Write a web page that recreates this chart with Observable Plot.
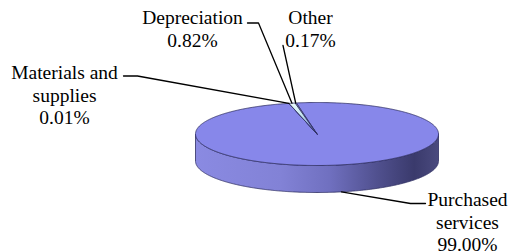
<!DOCTYPE html>
<html>
<head>
<meta charset="utf-8">
<script src="https://cdn.jsdelivr.net/npm/d3@7"></script>
<script src="https://cdn.jsdelivr.net/npm/@observablehq/plot@0.6"></script>
<style>
  html, body { margin: 0; padding: 0; background: #fff; }
</style>
</head>
<body>
<div id="chart"></div>
<script>
// ---- data ----
const categories = ["Materials and supplies", "Depreciation", "Other", "Purchased services"];
const labelNames = [["Materials and", "supplies"], ["Depreciation"], ["Other"], ["Purchased", "services"]];
const shares = [0.01, 0.82, 0.17, 99.00];
const sliceColors = ["#9a9af0", "url(#depGrad)", "#a4a4f0", "#8787ea"];

// ---- layout (not data) ----
const W = 511, H = 252;
const pie = {cx: 316.5, cy: 133.5, rx: 121.5, ry: 31.5, depth: 27, startDeg: -13.4};
const labelCenters = [[64, 76], [192, 21], [310, 21], [467, 203]]; // center x, first baseline
const leaderStubs = [
  [[123, 75.5], [137, 75.5]],
  [[247, 22.5], [258, 22.5]],
  [[282.5, 45]],
  [[425, 203], [410, 203]]
];
const FS = 19.5, LH = 1.17;
const FONT = "Liberation Serif";

// ---- geometry from data ----
const total = d3.sum(shares);
const arcs = [];
{
  let a = pie.startDeg;
  shares.forEach((v, i) => {
    const span = v / total * 360;
    arcs.push({name: categories[i], i, a0: a, a1: a + span, mid: a + span / 2});
    a += span;
  });
}
const ex = t => pie.cx + pie.rx * Math.sin(t * Math.PI / 180);
const ey = t => pie.cy - pie.ry * Math.cos(t * Math.PI / 180);

function sample(a0, a1) {
  const n = Math.max(2, Math.ceil(Math.abs(a1 - a0) / 0.5));
  return d3.range(n + 1).map(k => a0 + (a1 - a0) * k / n);
}

// top face polygons (big slice first)
const topPts = [];
const drawOrder = [3, 0, 2, 1];
drawOrder.forEach(i => {
  const s = arcs[i];
  topPts.push({k: s.name, x: pie.cx, y: pie.cy});
  sample(s.a0, s.a1).forEach(t => topPts.push({k: s.name, x: ex(t), y: ey(t)}));
  topPts.push({k: s.name, x: pie.cx, y: pie.cy});
});

// side wall (front half: 90..270 deg)
const sidePts = [];
arcs.forEach(s => {
  for (const off of [-360, 0, 360]) {
    const lo = Math.max(s.a0 + off, 90), hi = Math.min(s.a1 + off, 270);
    if (hi > lo) {
      const ts = sample(lo, hi);
      ts.forEach(t => sidePts.push({k: s.name, x: ex(t), y: ey(t)}));
      ts.slice().reverse().forEach(t => sidePts.push({k: s.name, x: ex(t), y: ey(t) + pie.depth}));
      sidePts.push({k: s.name, x: ex(ts[0]), y: ey(ts[0])});
    }
  }
});

// leader lines
const leaderPts = [];
arcs.forEach((s, i) => {
  const endX = ex(s.mid);
  let endY = ey(s.mid);
  const front = Math.cos(s.mid * Math.PI / 180) < 0;
  if (front) endY += pie.depth;
  const stub = leaderStubs[i];
  if (i === 3) {
    leaderPts.push({k: s.name, x: endX, y: endY});
    stub.slice().reverse().forEach(p => leaderPts.push({k: s.name, x: p[0], y: p[1]}));
  } else {
    stub.forEach(p => leaderPts.push({k: s.name, x: p[0], y: p[1]}));
    leaderPts.push({k: s.name, x: endX, y: endY});
  }
});

// labels
const labelData = categories.map((c, i) => ({
  text: [...labelNames[i], shares[i].toFixed(2) + "%"].join("\n"),
  x: labelCenters[i][0],
  y: labelCenters[i][1] - 0.71 * FS
}));

const outline = "#2e2e62";

const chart = Plot.plot({
  width: W,
  height: H,
  margin: 0,
  x: {domain: [0, W], range: [0, W], axis: null},
  y: {domain: [0, H], range: [0, H], axis: null},
  style: {background: "#fff", overflow: "visible"},
  marks: [
    Plot.line(sidePts, {x: "x", y: "y", z: "k", fill: "url(#sideGrad)", stroke: outline, strokeWidth: 0.8, curve: "linear"}),
    Plot.line(topPts, {x: "x", y: "y", z: "k",
      fill: d => sliceColors[categories.indexOf(d.k)],
      stroke: outline, strokeWidth: 0.8, strokeLinejoin: "round"}),
    Plot.line(leaderPts, {x: "x", y: "y", z: "k", stroke: "#000", strokeWidth: 1.3}),
    Plot.text(labelData, {x: "x", y: "y", text: "text", lineAnchor: "top", textAnchor: "middle",
      fontSize: FS, fontFamily: FONT, lineHeight: LH, fill: "#000"})
  ]
});

d3.select(chart).attr("font-family", FONT);
d3.select(chart).selectAll("text, tspan").attr("font-family", FONT).style("font-family", FONT);

const defs = d3.select(chart).insert("defs", ":first-child");
const sg = defs.append("linearGradient").attr("id", "sideGrad").attr("x1", 0).attr("y1", 0).attr("x2", 1).attr("y2", 0);
[[0, "#8a8ae2"], [0.35, "#8282d6"], [0.55, "#7070c0"], [0.75, "#50508e"], [0.9, "#3a3a6c"], [1, "#4a4a7e"]]
  .forEach(([o, c]) => sg.append("stop").attr("offset", o).attr("stop-color", c));
const dg = defs.append("linearGradient").attr("id", "depGrad").attr("x1", 0).attr("y1", 0).attr("x2", 0.6).attr("y2", 1);
[[0, "#eefcfc"], [0.5, "#c4e6ee"], [1, "#6a7cc8"]]
  .forEach(([o, c]) => dg.append("stop").attr("offset", o).attr("stop-color", c));

document.getElementById("chart").appendChild(chart);
</script>
</body>
</html>
